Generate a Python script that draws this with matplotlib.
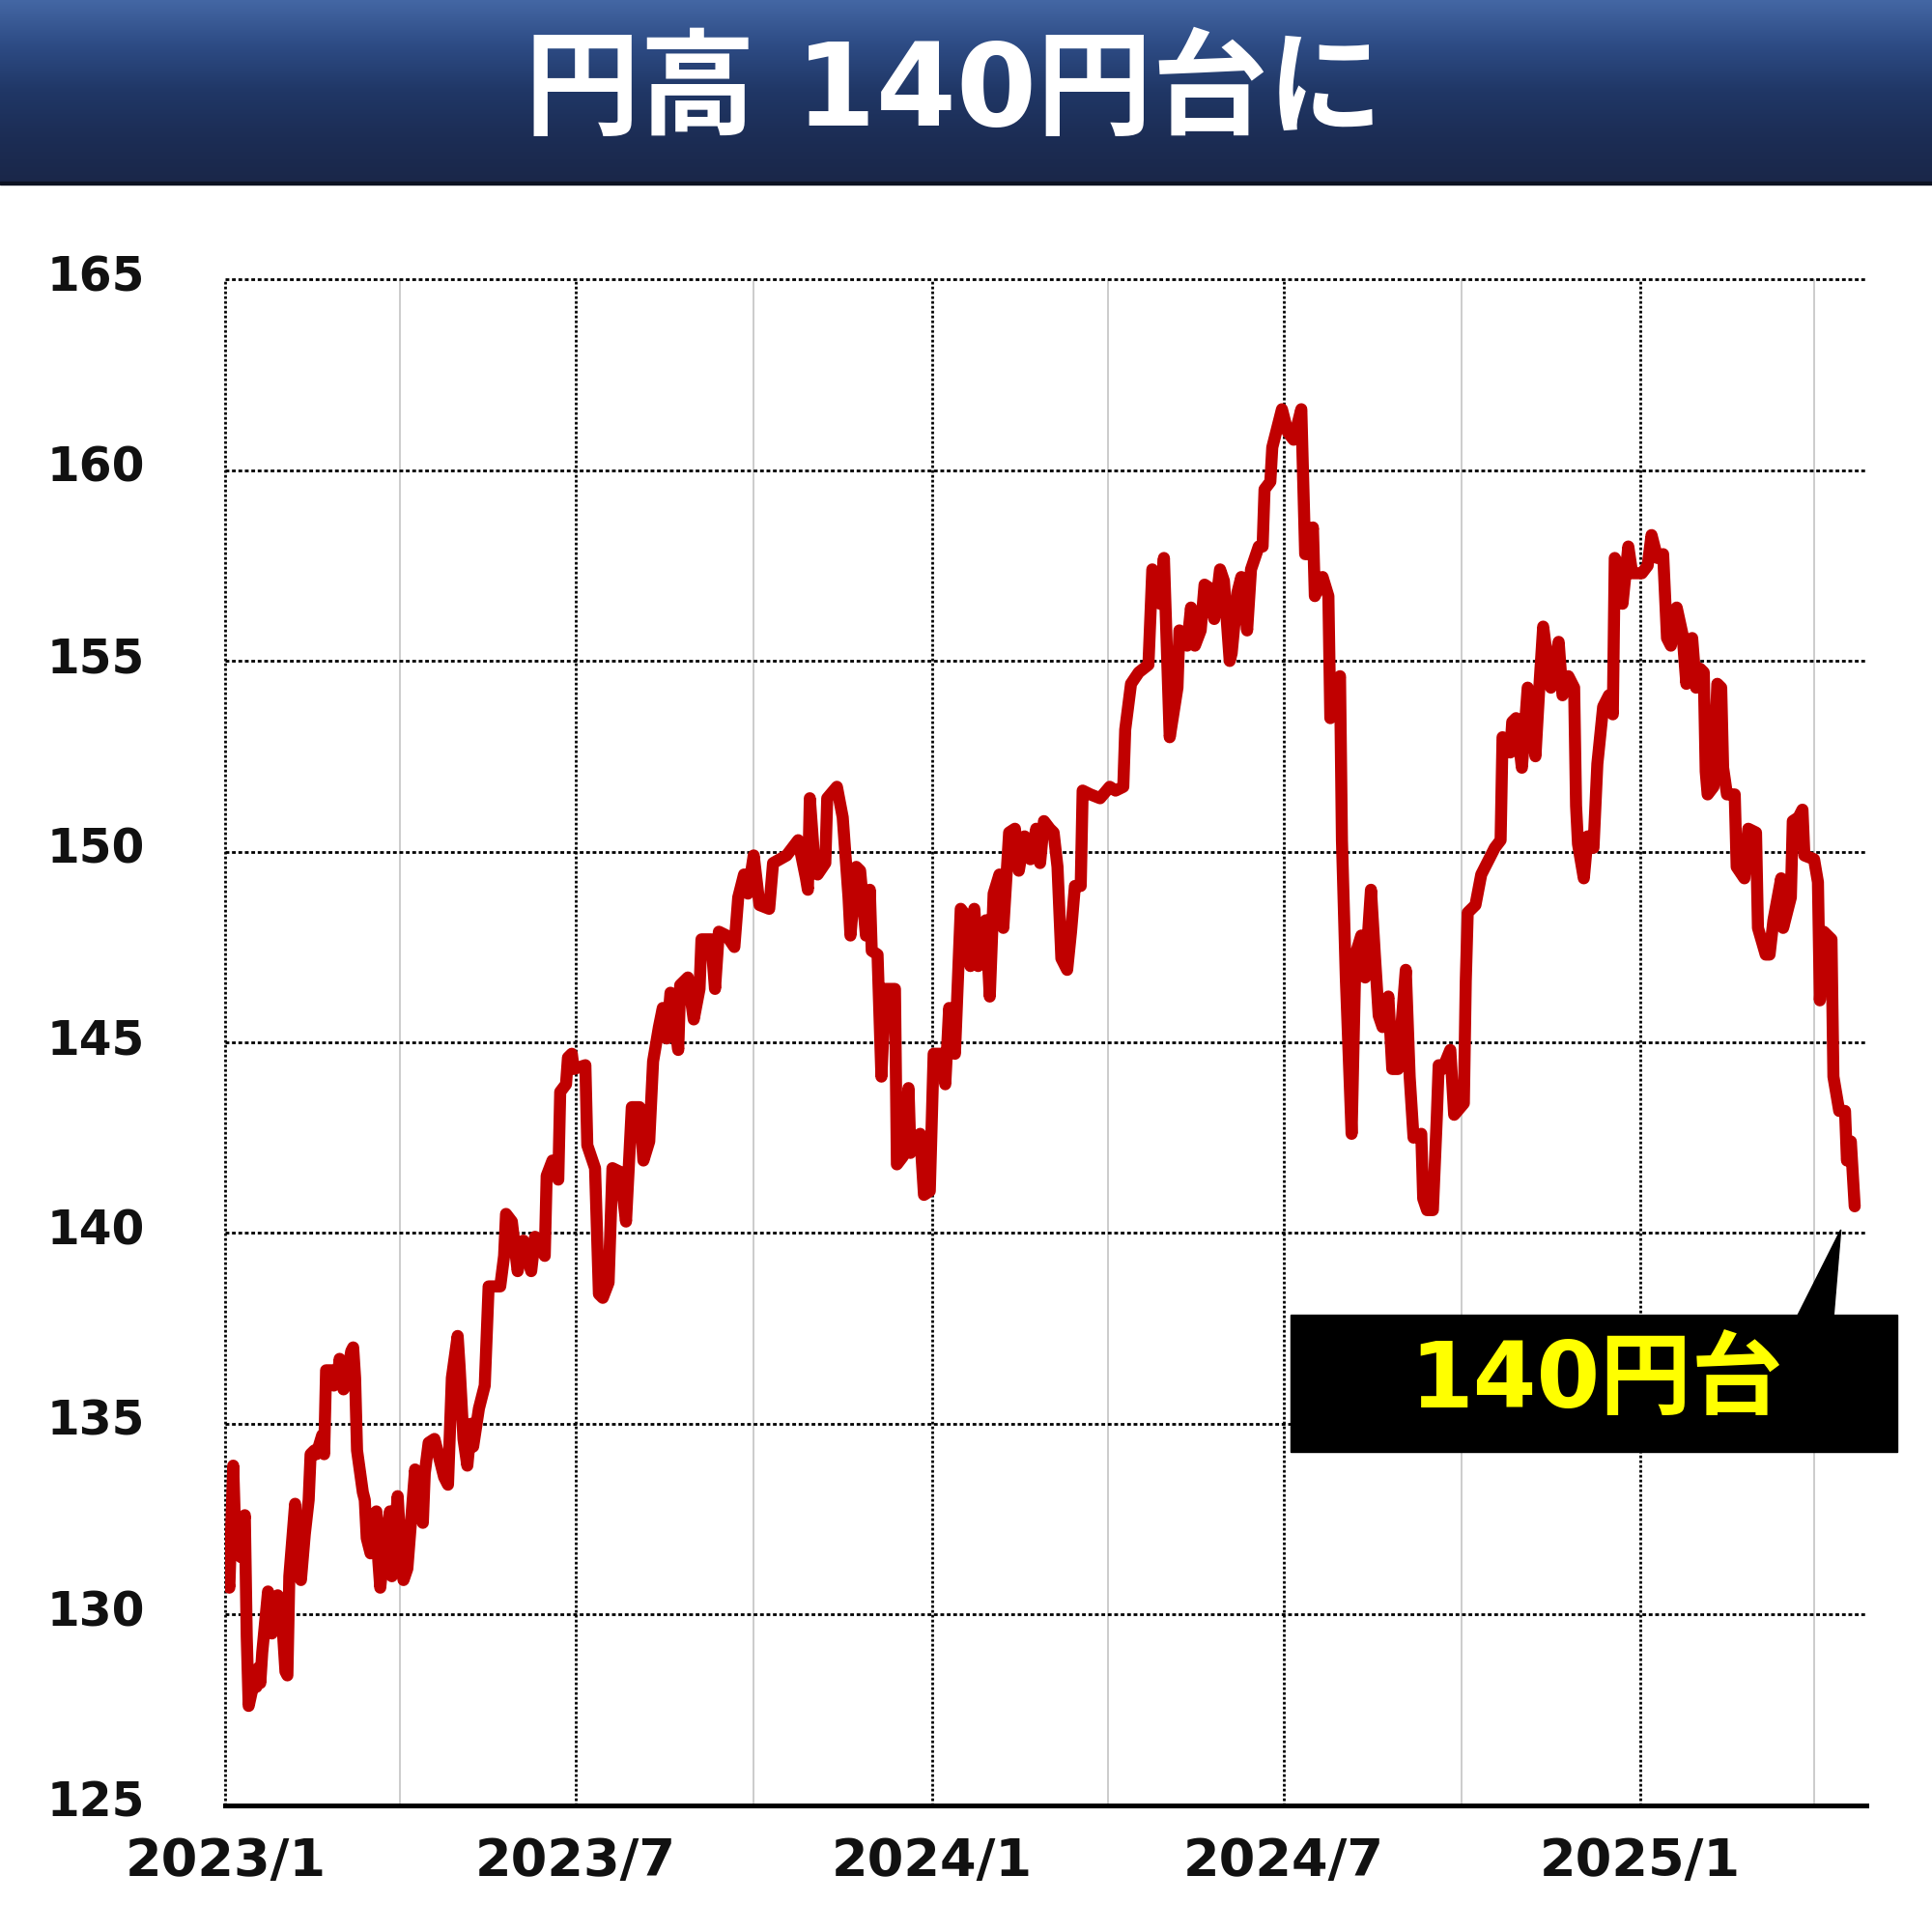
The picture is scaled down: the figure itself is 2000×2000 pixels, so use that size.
import numpy as np
import pandas as pd
import matplotlib
matplotlib.use("Agg")
import matplotlib.pyplot as plt
from matplotlib.patches import Rectangle, Polygon
from matplotlib.colors import LinearSegmentedColormap
from matplotlib.transforms import ScaledTranslation

plt.rcParams['font.family'] = ['DejaVu Sans', 'Noto Sans CJK JP']

title_text = "円高 140円台に"
callout_text = "140円台"
start_date = "2023-01-01"

# days since 2023/1/1 and the USD/JPY close
day_offsets = [
    1, 2, 4, 5, 8, 9, 10, 11, 12, 15, 16, 17, 18, 19, 22, 23, 24, 25, 26, 27,
    29, 31, 32, 33, 36, 37, 38, 39, 41, 43, 44, 46, 47, 50, 51, 52, 55, 56, 58, 59,
    61, 62, 65, 66, 67, 68, 71, 72, 73, 75, 76, 78, 79, 80, 82, 85, 86, 89, 90, 92,
    94, 96, 98, 100, 102, 103, 105, 108, 110, 111, 113, 115, 117, 120, 121, 123, 125, 127, 128, 131,
    134, 136, 139, 142, 144, 145, 148, 151, 154, 158, 160, 165, 166, 169, 172, 173, 176, 177, 179, 180,
    186, 187, 191, 193, 195, 198, 200, 204, 207, 210, 214, 216, 219, 221, 224, 226, 228, 230, 234, 235,
    239, 242, 245, 246, 251, 253, 255, 259, 263, 265, 268, 270, 273, 276, 281, 283, 290, 296, 300, 301,
    302, 304, 306, 310, 311, 316, 319, 322, 323, 326, 328, 331, 333, 334, 337, 339, 341, 346, 347, 350,
    353, 354, 359, 361, 364, 366, 371, 372, 374, 377, 380, 383, 385, 387, 389, 393, 395, 397, 400, 402,
    405, 408, 410, 413, 416, 419, 421, 423, 426, 428, 430, 432, 435, 437, 439, 442, 443, 447, 452, 457,
    460, 464, 465, 468, 472, 477, 479, 481, 483, 485, 488, 492, 493, 497, 499, 501, 504, 506, 509, 511,
    514, 516, 519, 520, 523, 525, 528, 530, 532, 534, 536, 537, 540, 541, 546, 549, 552, 556, 558, 560,
    562, 563, 567, 570, 571, 575, 576, 577, 579, 582, 584, 587, 589, 592, 594, 596, 598, 601, 603, 606,
    610, 612, 614, 618, 619, 621, 624, 626, 627, 629, 633, 635, 640, 641, 642, 646, 649, 653, 656, 659,
    660, 664, 665, 667, 670, 673, 677, 679, 681, 685, 689, 691, 694, 697, 698, 699, 702, 704, 707, 709,
    712, 715, 717, 718, 720, 722, 725, 727, 732, 735, 737, 740, 743, 745, 747, 750, 753, 755, 758, 760,
    762, 764, 765, 766, 769, 771, 773, 774, 776, 780, 781, 785, 787, 791, 792, 796, 798, 800, 804, 805,
    809, 810, 813, 815, 816, 821, 823, 824, 826, 830, 831, 834, 837, 838, 840, 842,
]
usdjpy = [
    131.0, 130.7, 133.9, 132.2, 131.5, 132.3, 132.6, 129.4, 127.6, 128.3, 128.1, 128.6, 128.2, 129.0, 130.6, 130.2, 129.5, 130.2, 129.8, 130.5,
    130.1, 128.5, 128.4, 131.0, 132.9, 131.2, 131.3, 130.9, 132.1, 133.0, 134.2, 134.3, 134.2, 134.7, 134.2, 136.4, 136.4, 136.0, 136.2, 136.7,
    135.9, 136.0, 136.9, 137.0, 136.2, 134.3, 133.2, 133.0, 132.0, 131.6, 131.9, 132.7, 131.4, 130.7, 131.8, 132.7, 131.0, 133.1, 132.2, 130.9,
    131.2, 132.5, 133.8, 133.2, 132.4, 133.7, 134.5, 134.6, 134.2, 134.0, 133.6, 133.4, 136.2, 137.3, 136.5, 134.6, 133.9, 135.0, 134.4, 135.4,
    136.0, 138.6, 138.6, 138.6, 139.4, 140.5, 140.3, 139.0, 139.8, 139.0, 139.9, 139.4, 141.5, 141.9, 141.4, 143.7, 143.9, 144.6, 144.7, 144.3,
    144.4, 142.3, 141.7, 138.4, 138.3, 138.7, 141.7, 141.6, 140.3, 143.3, 143.3, 141.9, 142.4, 144.5, 145.4, 145.9, 145.1, 146.3, 144.8, 146.5,
    146.7, 145.6, 146.4, 147.7, 147.7, 146.4, 147.9, 147.8, 147.5, 148.8, 149.4, 148.9, 149.9, 148.6, 148.5, 149.7, 149.9, 150.3, 149.3, 149.0,
    151.4, 150.0, 149.4, 149.7, 151.4, 151.7, 150.9, 148.8, 147.8, 149.6, 149.5, 147.8, 149.0, 147.4, 147.3, 144.1, 146.4, 146.4, 141.8, 142.0,
    143.8, 142.1, 142.6, 141.0, 141.1, 144.7, 144.7, 143.9, 145.9, 144.7, 148.5, 148.3, 147.0, 148.5, 147.0, 148.2, 146.2, 148.9, 149.4, 148.0,
    150.5, 150.6, 149.5, 150.4, 149.8, 150.6, 149.7, 150.8, 150.6, 150.5, 149.6, 147.2, 146.9, 147.9, 149.1, 149.1, 151.6, 151.5, 151.4, 151.7,
    151.6, 151.7, 153.2, 154.4, 154.7, 154.9, 157.4, 157.2, 156.5, 157.7, 153.0, 154.3, 155.8, 155.4, 156.4, 155.4, 155.8, 157.0, 156.9, 156.1,
    157.4, 157.1, 155.0, 155.2, 156.8, 157.2, 155.8, 157.4, 157.7, 158.0, 158.0, 159.5, 159.7, 160.6, 161.6, 161.0, 160.8, 161.6, 157.8, 157.8,
    158.5, 156.7, 157.2, 156.7, 153.5, 154.4, 154.6, 150.3, 146.7, 142.6, 147.3, 147.8, 146.7, 149.0, 147.3, 145.7, 145.4, 146.2, 144.3, 144.3,
    146.9, 144.1, 142.5, 142.6, 140.9, 140.6, 140.6, 143.0, 144.4, 144.3, 144.8, 143.1, 143.4, 146.6, 148.4, 148.6, 149.4, 149.8, 150.1, 150.3,
    153.0, 152.6, 153.4, 153.5, 152.2, 154.3, 152.5, 154.3, 155.9, 154.3, 155.5, 154.1, 154.6, 154.3, 151.2, 150.2, 149.3, 150.4, 150.1, 152.3,
    153.8, 154.1, 153.6, 157.7, 157.5, 156.5, 158.0, 157.3, 157.3, 157.5, 158.3, 157.7, 157.8, 155.6, 155.4, 156.4, 155.7, 154.4, 155.6, 154.3,
    154.8, 154.7, 152.1, 151.5, 151.7, 154.4, 154.3, 152.2, 151.5, 151.5, 149.6, 149.3, 150.6, 150.5, 148.0, 147.3, 147.3, 148.2, 149.3, 148.0,
    148.8, 150.8, 150.9, 151.1, 149.9, 149.8, 149.2, 146.1, 147.9, 147.7, 144.1, 143.2, 143.2, 141.9, 142.4, 140.7,
]

y_ticks = [125, 130, 135, 140, 145, 150, 155, 160, 165]
x_tick_dates = ["2023-01-01", "2023-07-01", "2024-01-01", "2024-07-01", "2025-01-01"]
x_tick_labels = ["2023/1", "2023/7", "2024/1", "2024/7", "2025/1"]
quarter_dates = ["2023-04-01", "2023-10-01", "2024-04-01", "2024-10-01", "2025-04-01"]
x_end = "2025-04-28"

dates = pd.Timestamp(start_date) + pd.to_timedelta(day_offsets, unit="D")

fig = plt.figure(figsize=(20, 20), dpi=100)
fig.patch.set_facecolor("white")

# header band with gradient
hax = fig.add_axes([0, 0.9055, 1, 0.0945])
grad = np.linspace(0, 1, 256).reshape(-1, 1)
cmap = LinearSegmentedColormap.from_list(
    "hdr", ["#4467a4", "#2d4b84", "#203766", "#1c2d55", "#1a2749"])
hax.imshow(grad, aspect="auto", cmap=cmap, extent=[0, 1, 0, 1])
hax.set_axis_off()
fig.patches.append(Rectangle((0, 0.9045), 1, 0.0015, transform=fig.transFigure,
                             color="#0c1222", zorder=2))
fig.text(0.4937, 0.9515, title_text, color="white", fontsize=86, fontweight="bold",
         ha="center", va="center")

# main chart
ax = fig.add_axes([0.1167, 0.0657, 0.8493, 0.7896])
ax.plot(dates, usdjpy, color="#c00000", lw=9, solid_joinstyle="round",
        solid_capstyle="round", zorder=5)

ax.set_ylim(y_ticks[0], y_ticks[-1])
ax.set_xlim(pd.Timestamp(start_date), pd.Timestamp(x_end))

dot = (0, (1.4, 1.0))
for v in y_ticks[1:]:
    ax.axhline(v, color="black", lw=2.0, ls=dot, zorder=2, clip_on=False)
for d in x_tick_dates:
    ax.axvline(pd.Timestamp(d), color="black", lw=2.0, ls=(0, (1.0, 0.8)), zorder=2, clip_on=False)
for d in quarter_dates:
    ax.axvline(pd.Timestamp(d), color="#cccccc", lw=1.4, zorder=1)

for s in ["top", "right", "left"]:
    ax.spines[s].set_visible(False)
ax.spines["bottom"].set_linewidth(3.6)
ax.spines["bottom"].set_zorder(6)

ax.set_yticks(y_ticks)
ax.set_yticklabels([str(v) for v in y_ticks])
ax.set_xticks([pd.Timestamp(d) for d in x_tick_dates])
ax.set_xticklabels(x_tick_labels)
ax.tick_params(axis="y", length=0, pad=60, labelsize=35)
ax.tick_params(axis="x", length=0, pad=23, labelsize=39)
for lab in ax.get_yticklabels() + ax.get_xticklabels():
    lab.set_fontweight("bold")
    lab.set_color("#111111")
up = ScaledTranslation(0, 5 / 72, fig.dpi_scale_trans)
for lab in ax.get_yticklabels():
    lab.set_transform(lab.get_transform() + up)

# callout box
fig.patches.append(Rectangle((0.6678, 0.2487), 0.3143, 0.0708, transform=fig.transFigure,
                             color="black", zorder=7))
fig.patches.append(Polygon([(0.9299, 0.3180), (0.9490, 0.3180), (0.9528, 0.3635)],
                           closed=True, transform=fig.transFigure, color="black", zorder=7))
fig.text(0.826, 0.2845, callout_text, color="#ffff00", fontsize=68, fontweight="bold",
         ha="center", va="center", zorder=8)

fig.savefig("out.png", dpi=100, facecolor="white")
